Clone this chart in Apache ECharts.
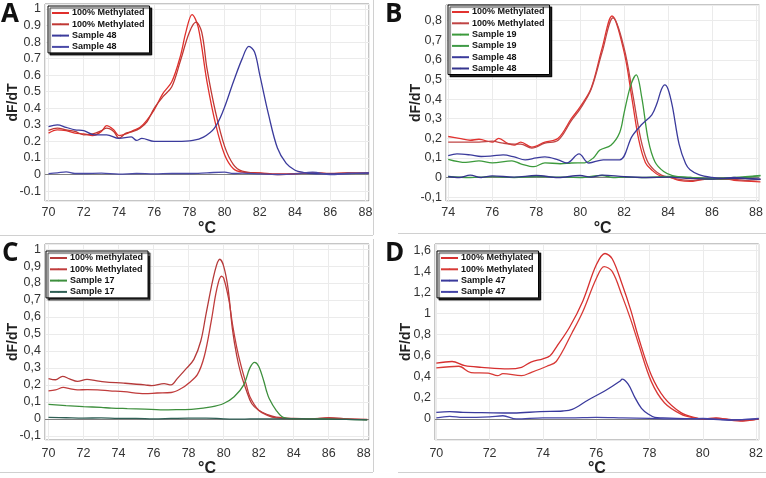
<!DOCTYPE html>
<html><head><meta charset="utf-8">
<script src="https://cdn.jsdelivr.net/npm/echarts@6/dist/echarts.min.js"></script>
<style>html,body{margin:0;padding:0;background:#fff}#c{width:766px;height:478px}</style>
</head><body><div id="c"></div>
<script>
// ---------- Panel A ----------
const A_x_ticks = [70,72,74,76,78,80,82,84,86,88];
const A_meth1_T = [70,70.5,71,71.5,72,72.5,73,73.3,73.7,74,74.4,74.8,75.2,75.6,76,76.5,77,77.5,77.8,78.15,78.5,79,79.5,80,80.5,81,82,83,84,85,86,87,88.2];
const A_meth1_V = [0.25,0.27,0.265,0.25,0.245,0.235,0.26,0.295,0.27,0.235,0.245,0.265,0.285,0.33,0.39,0.49,0.56,0.72,0.86,0.966,0.89,0.56,0.3,0.12,0.035,0.015,0.01,0.003,0.005,0.012,0.004,0.008,0.01];
const A_meth2_T = [70,70.5,71,71.5,72,72.5,73,73.3,73.7,74,74.4,74.8,75.2,75.6,76,76.5,77,77.5,78,78.38,78.7,79,79.5,80,80.5,81,82,83,84,85,86,87,88.2];
const A_meth2_V = [0.267,0.28,0.27,0.26,0.24,0.245,0.265,0.28,0.26,0.22,0.25,0.26,0.28,0.32,0.4,0.47,0.53,0.69,0.86,0.92,0.86,0.64,0.37,0.17,0.06,0.02,0.008,0.0,0.004,0.01,0.006,0.01,0.008];
const A_s48a_T = [70,70.5,71,71.5,72,72.6,73.3,74,74.7,75,75.3,76,76.5,77.3,78.2,78.8,79.4,79.9,80.5,81,81.38,81.7,82,82.5,83,83.5,84,84.5,85,86,87,88.2];
const A_s48a_V = [0.29,0.3,0.285,0.27,0.265,0.24,0.24,0.218,0.227,0.206,0.218,0.2,0.2,0.2,0.206,0.226,0.277,0.38,0.56,0.7,0.774,0.74,0.6,0.36,0.16,0.067,0.026,0.012,0.006,0.004,0.006,0.008];
const A_s48b_T = [70,70.5,71,71.5,72,73,74,75,76,77,78,79,80,80.5,81,82,83,84,85,86,87,88.2];
const A_s48b_V = [0.005,0.01,0.016,0.006,0.006,0.008,0.002,0.006,0.004,0.006,0.006,0.01,0.015,0.006,0.008,0.004,0.0,0.004,0.014,0.0,0.006,0.01];

// ---------- Panel B ----------
const B_x_ticks = [74,76,78,80,82,84,86,88];
const B_meth1_T = [74,74.5,75,75.4,76,76.3,76.7,77,77.3,77.8,78.4,79,79.6,80,80.5,81,81.45,82,82.36,82.67,82.97,83.27,83.6,84.1,84.5,85,85.5,86,86.5,87,87.5,88.2];
const B_meth1_V = [0.209,0.2,0.19,0.195,0.18,0.2,0.174,0.165,0.18,0.155,0.18,0.2,0.3,0.36,0.455,0.66,0.824,0.64,0.4,0.19,0.075,0.037,0.01,0.0,-0.015,-0.02,-0.012,-0.008,-0.005,-0.015,-0.018,-0.022];
const B_meth2_T = [74,74.5,75,75.4,76,76.5,77,77.3,77.8,78.4,79,79.6,80,80.5,81,81.5,82,82.4,82.75,83.05,83.35,83.7,84.1,84.5,85,85.5,86,86.5,87,87.5,88.2];
const B_meth2_V = [0.18,0.18,0.18,0.18,0.185,0.175,0.17,0.17,0.15,0.175,0.19,0.29,0.35,0.45,0.64,0.815,0.66,0.42,0.2,0.085,0.04,0.012,0.0,-0.01,-0.015,-0.01,-0.005,-0.01,-0.01,-0.015,-0.01];
const B_s19a_T = [74,74.8,75.4,76,76.9,77.3,77.9,78.4,79.1,79.6,80.2,80.6,80.9,81.4,81.8,82,82.3,82.55,82.8,83.1,83.4,83.8,84.2,85,86,87,88.2];
const B_s19a_V = [0.093,0.077,0.085,0.075,0.085,0.07,0.055,0.075,0.07,0.074,0.075,0.1,0.14,0.165,0.23,0.33,0.47,0.523,0.41,0.19,0.08,0.03,0.01,0.0,-0.008,-0.005,0.01];
const B_s19b_T = [74,75,76,77,78,79,80,81,81.5,82,83,84,85,86,87,88.2];
const B_s19b_V = [0.005,0.0,0.004,0.0,0.005,0.002,0.0,0.01,0.0,0.002,0.0,0.005,0.0,-0.005,0.0,0.01];
const B_s48a_T = [74,74.4,75,75.5,76,76.5,77,77.5,78,78.4,79,79.4,79.95,80.4,81.05,81.8,82.36,82.8,83.26,83.5,83.7,83.85,84,84.2,84.5,84.8,85,85.4,86,86.5,87,87.5,88.2];
const B_s48a_V = [0.112,0.12,0.115,0.107,0.11,0.115,0.105,0.09,0.1,0.105,0.09,0.074,0.12,0.074,0.09,0.09,0.21,0.27,0.32,0.38,0.45,0.472,0.45,0.36,0.17,0.07,0.04,0.015,0.0,-0.005,0.0,-0.005,-0.01];
const B_s48b_T = [74,74.5,75,75.5,76,77,78,79,80,80.5,81,82,83,84,85,86,87,88.2];
const B_s48b_V = [0.005,0.0,0.012,0.0,0.008,0.002,0.01,0.0,0.01,0.002,0.012,0.004,0.0,0.002,-0.005,-0.008,-0.004,-0.008];

// ---------- Panel C ----------
const C_x_ticks = [70,72,74,76,78,80,82,84,86,88];
const C_meth1_T = [70,70.4,70.8,71.2,71.65,72.2,72.7,73.2,74.3,75.5,75.9,76.6,77,77.35,77.9,78.3,78.7,79,79.5,79.78,80,80.25,80.5,80.75,81,81.3,81.6,82,82.5,83,84,85,86,87,88.2];
const C_meth1_V = [0.237,0.23,0.25,0.235,0.22,0.232,0.225,0.218,0.21,0.2,0.195,0.207,0.2,0.237,0.3,0.35,0.46,0.62,0.87,0.94,0.9,0.77,0.53,0.37,0.26,0.167,0.09,0.05,0.025,0.01,0.002,0.0,0.004,0.0,-0.005];
const C_meth2_T = [70,70.4,70.85,71.2,71.65,72.2,72.8,73.5,74.3,75.5,76.2,77,77.6,78,78.5,78.9,79.3,79.6,79.87,80,80.3,80.5,80.75,81,81.3,81.5,82,82.5,83,84,85,86,87,88.2];
const C_meth2_V = [0.165,0.17,0.185,0.178,0.17,0.172,0.17,0.165,0.16,0.148,0.152,0.155,0.18,0.21,0.26,0.37,0.58,0.76,0.84,0.83,0.7,0.56,0.42,0.31,0.2,0.13,0.05,0.02,0.005,0.0,0.0,0.006,0.0,-0.004];
const C_s17a_T = [70,71,72,73,73.6,74.5,75.5,76.4,77.3,78.3,79.3,80,80.6,81.15,81.5,81.77,82,82.3,82.44,82.6,83,83.4,84,85,86,87,88.2];
const C_s17a_V = [0.085,0.078,0.072,0.067,0.063,0.06,0.057,0.053,0.054,0.057,0.07,0.09,0.13,0.2,0.3,0.333,0.31,0.22,0.167,0.12,0.05,0.008,0.0,0.0,-0.002,-0.004,-0.006];
const C_s17b_T = [70,71,72,73,74,75,76,77,78,79,80,81,82,83,84,85,86,87,88.2];
const C_s17b_V = [0.008,0.006,0.004,0.005,0.002,0.002,0.0,0.002,0.004,0.004,0.0,-0.002,0.0,0.0,0.0,-0.002,-0.002,-0.004,-0.006];

// ---------- Panel D ----------
const D_x_ticks = [70,72,74,76,78,80,82];
const D_meth1_T = [70,70.59,71.07,71.7,72.7,73.2,73.55,74,74.27,74.5,75,75.5,76,76.33,76.6,76.97,77.3,77.58,78.07,78.56,79.18,79.67,80,80.5,81,81.5,82.1];
const D_meth1_V = [0.53,0.545,0.505,0.49,0.475,0.49,0.54,0.57,0.6,0.68,0.87,1.12,1.46,1.57,1.52,1.28,1.03,0.78,0.415,0.2,0.06,0.015,0.0,0.01,-0.01,-0.02,0.0];
const D_meth2_T = [70,70.84,71.3,71.95,72.3,72.5,73.2,73.55,74.15,74.5,75.1,75.5,76,76.3,76.6,76.97,77.3,77.58,78.07,78.56,79.18,79.67,80,80.5,81,81.5,82.1];
const D_meth2_V = [0.485,0.5,0.44,0.435,0.41,0.43,0.41,0.44,0.5,0.545,0.82,1.02,1.33,1.446,1.4,1.17,0.94,0.72,0.354,0.154,0.046,0.01,0.0,0.005,-0.005,-0.015,0.0];
const D_s47a_T = [70,70.5,71,71.7,72.9,73.9,74.75,75.1,75.7,76.35,76.9,76.97,77.2,77.46,77.7,77.95,78.2,78.5,79,80,81,82.1];
const D_s47a_V = [0.062,0.07,0.062,0.06,0.056,0.07,0.075,0.09,0.18,0.27,0.36,0.378,0.33,0.2,0.1,0.046,0.015,0.01,0.005,0.0,-0.01,0.0];
const D_s47b_T = [70,70.5,71,72,72.5,73,74,75,76,77,78,79,80,81,82.1];
const D_s47b_V = [0.01,0.025,0.015,0.02,0.03,0.0,0.01,0.01,0.015,0.01,0.005,0.0,0.005,-0.01,0.005];

// legend labels
const LBL_METH = '100% Methylated', LBL_meth = '100% methylated';
const LBL_S48 = 'Sample 48', LBL_S19 = 'Sample 19', LBL_S17 = 'Sample 17', LBL_S47 = 'Sample 47';

const FONT = 'Liberation Sans, Arial, sans-serif';
const pair = (T, V) => T.map((t, i) => [t, V[i]]);

const panels = [
  {key:'A', grid:{left:45, top:4, width:324, height:197}, x:[69.8,88.2,2], y:[-0.16,1.03,0.1], dec:'.',
   legend:{left:48, top:6}, nameGapY:25, nameGapX:20, xMargin:5,
   series:[
     [LBL_METH+'|A1', A_meth1_T, A_meth1_V, '#e0302c'],
     [LBL_METH+'|A2', A_meth2_T, A_meth2_V, '#c03834'],
     [LBL_S48+'|A3', A_s48a_T, A_s48a_V, '#3b3b9c'],
     [LBL_S48+'|A4', A_s48b_T, A_s48b_V, '#4a4aa8']]},
  {key:'B', grid:{left:446, top:5, width:317, height:196}, x:[73.9,88.15,2], y:[-0.12,0.88,0.1], dec:',',
   legend:{left:448, top:5}, nameGapY:23, nameGapX:20, xMargin:5,
   series:[
     [LBL_METH+'|B1', B_meth1_T, B_meth1_V, '#e23330'],
     [LBL_METH+'|B2', B_meth2_T, B_meth2_V, '#c04444'],
     [LBL_S19+'|B3', B_s19a_T, B_s19a_V, '#3c9a3c'],
     [LBL_S19+'|B4', B_s19b_T, B_s19b_V, '#3f9a46'],
     [LBL_S48+'|B5', B_s48a_T, B_s48a_V, '#3b3b9c'],
     [LBL_S48+'|B6', B_s48b_T, B_s48b_V, '#34348e']]},
  {key:'C', grid:{left:45, top:244, width:324, height:203}, x:[69.8,88.3,2], y:[-0.125,1.03,0.1], dec:',',
   legend:{left:46, top:251}, nameGapY:25, nameGapX:21, xMargin:7,
   series:[
     [LBL_meth+'|C1', C_meth1_T, C_meth1_V, '#b53a3a'],
     [LBL_METH+'|C2', C_meth2_T, C_meth2_V, '#c03c3c'],
     [LBL_S17+'|C3', C_s17a_T, C_s17a_V, '#3d8f3d'],
     [LBL_S17+'|C4', C_s17b_T, C_s17b_V, '#2f5f55']]},
  {key:'D', grid:{left:435, top:244, width:328, height:202}, x:[69.95,82.1,2], y:[-0.2,1.66,0.2], dec:',',
   legend:{left:437, top:251}, nameGapY:22, nameGapX:21, xMargin:7,
   series:[
     [LBL_METH+'|D1', D_meth1_T, D_meth1_V, '#d63030'],
     [LBL_METH+'|D2', D_meth2_T, D_meth2_V, '#d83a36'],
     [LBL_S47+'|D3', D_s47a_T, D_s47a_V, '#3a3a9c'],
     [LBL_S47+'|D4', D_s47b_T, D_s47b_V, '#4444a8']]}
];

const option = {animation:false, backgroundColor:'#fff', grid:[], xAxis:[], yAxis:[], series:[], legend:[], graphic:[]};

panels.forEach((p, gi) => {
  option.grid.push(Object.assign({show:true, backgroundColor:'#fff', borderColor:'#8c8c8c', borderWidth:1}, p.grid));
  option.xAxis.push({
    type:'value', gridIndex:gi, min:p.x[0], max:p.x[1], minInterval:p.x[2], maxInterval:p.x[2],
    name:'°C', nameLocation:'middle', nameGap:p.nameGapX, nameMoveOverlap:false,
    nameTextStyle:{fontFamily:FONT, fontWeight:'bold', fontSize:16, color:'#222'},
    axisLine:{show:false}, axisTick:{show:false},
    axisLabel:{showMinLabel:false, showMaxLabel:false, fontFamily:FONT, fontSize:12.5, color:'#333', margin:p.xMargin,
      formatter: v => String(Math.round(v))},
    splitLine:{show:true, lineStyle:{color:'#ebebeb', width:1}}
  });
  option.yAxis.push({
    type:'value', gridIndex:gi, min:p.y[0], max:p.y[1], minInterval:p.y[2], maxInterval:p.y[2],
    name:'dF/dT', nameLocation:'middle', nameGap:p.nameGapY, nameRotate:90, nameMoveOverlap:false,
    nameTextStyle:{fontFamily:FONT, fontWeight:'bold', fontSize:14, color:'#222'},
    axisLine:{show:false}, axisTick:{show:false},
    axisLabel:{showMinLabel:false, showMaxLabel:false, fontFamily:FONT, fontSize:12.5, color:'#333', margin:4,
      formatter: v => { const r = Math.round(v*100)/100; return (Math.abs(r) < 1e-9 ? '0' : String(r)).replace('.', p.dec); }},
    splitLine:{show:true, lineStyle:{color:'#ebebeb', width:1}}
  });
  const names = [];
  p.series.forEach((s, si) => {
    names.push(s[0]);
    const ser = {
      type:'line', name:s[0], xAxisIndex:gi, yAxisIndex:gi, data:pair(s[1], s[2]),
      smooth:0.35, symbol:'none', lineStyle:{color:s[3], width:1.3}, itemStyle:{color:s[3]}, z:3+si
    };
    if (si === 0) {
      ser.markLine = {silent:true, symbol:'none', label:{show:false}, animation:false,
        lineStyle:{color:'#808080', width:1, type:'solid'}, data:[{yAxis:0}], z:1};
    }
    option.series.push(ser);
  });
  option.legend.push({
    data:names, orient:'vertical', left:p.legend.left, top:p.legend.top,
    itemWidth:17, itemHeight:2, itemGap:1.3, selectedMode:false,
    padding:[2,5,1,3], backgroundColor:'#fff', borderColor:'#000', borderWidth:1,
    shadowColor:'rgba(0,0,0,0.85)', shadowBlur:1, shadowOffsetX:2, shadowOffsetY:2,
    formatter: n => n.split('|')[0],
    textStyle:{fontFamily:FONT, fontWeight:'bold', fontSize:9, lineHeight:10, color:'#111', padding:[0,0,0,-2]}
  });
});

// panel letters
[['A',1,16],['B',385,16],['C',2,255],['D',385,255]].forEach(([t,x,y]) => {
  option.graphic.push({type:'text', left:x, top:y-14, z:100,
    style:{text:t, font:'bold 26px "Open Sans", sans-serif', fill:'#111'}});
});
// panel frames (light grey)
option.graphic.push(
  {type:'line', shape:{x1:0, y1:235.5, x2:373, y2:235.5}, style:{stroke:'#d0d0d0', lineWidth:1}},
  {type:'line', shape:{x1:373.5, y1:0, x2:373.5, y2:235}, style:{stroke:'#d0d0d0', lineWidth:1}},
  {type:'line', shape:{x1:398, y1:233.5, x2:766, y2:233.5}, style:{stroke:'#d0d0d0', lineWidth:1}},
  {type:'line', shape:{x1:0, y1:472.5, x2:373, y2:472.5}, style:{stroke:'#d0d0d0', lineWidth:1}},
  {type:'line', shape:{x1:373.5, y1:239, x2:373.5, y2:472}, style:{stroke:'#d0d0d0', lineWidth:1}},
  {type:'line', shape:{x1:398, y1:472.5, x2:766, y2:472.5}, style:{stroke:'#d0d0d0', lineWidth:1}}
);

const chart = echarts.init(document.getElementById('c'), null, {renderer:'canvas'});
chart.setOption(option);
</script>
</body></html>
